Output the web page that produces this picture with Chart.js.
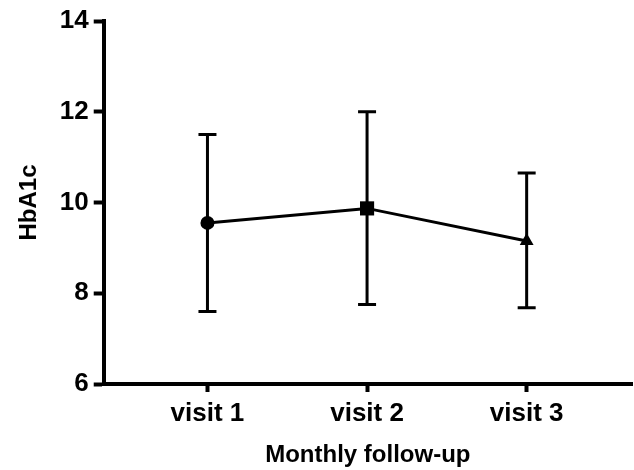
<!DOCTYPE html>
<html>
<head>
<meta charset="utf-8">
<script src="https://cdn.jsdelivr.net/npm/chart.js@4/dist/chart.umd.min.js"></script>
<style>
  html, body { margin: 0; padding: 0; background: #fff; }
  #wrap { width: 634px; height: 470px; }
</style>
</head>
<body>
<div id="wrap"><canvas id="c" width="634" height="470"></canvas></div>
<script>
const categories = ['visit 1', 'visit 2', 'visit 3'];
const means = [9.55, 9.87, 9.15];
const upper = [11.5, 12.0, 10.65];
const lower = [7.6, 7.75, 7.68];
const yTicks = [6, 8, 10, 12, 14];

const points = categories.map((c, i) => ({ x: i + 1, y: means[i] }));

const errorBars = {
  id: 'errorBars',
  afterDatasetsDraw(chart) {
    const ctx = chart.ctx;
    const xs = chart.scales.x, ys = chart.scales.y;
    ctx.save();
    ctx.strokeStyle = '#000';
    ctx.lineWidth = 3;
    ctx.lineCap = 'butt';
    categories.forEach((c, i) => {
      const px = xs.getPixelForValue(i + 1);
      const pt = ys.getPixelForValue(upper[i]);
      const pb = ys.getPixelForValue(lower[i]);
      ctx.beginPath();
      ctx.moveTo(px, pt); ctx.lineTo(px, pb);
      ctx.moveTo(px - 9, pt); ctx.lineTo(px + 9, pt);
      ctx.moveTo(px - 9, pb); ctx.lineTo(px + 9, pb);
      ctx.stroke();
    });
    ctx.restore();
  }
};

new Chart(document.getElementById('c'), {
  type: 'line',
  data: {
    datasets: [{
      data: points,
      borderColor: '#000',
      backgroundColor: '#000',
      borderWidth: 3,
      pointStyle: ['circle', 'rect', 'triangle'],
      pointRadius: [7, 10, 8],
      pointBackgroundColor: '#000',
      pointBorderColor: '#000',
      pointBorderWidth: 0,
      tension: 0,
      clip: false
    }]
  },
  options: {
    responsive: false,
    animation: false,
    layout: { autoPadding: false, padding: { top: 21, right: 2, left: 15, bottom: 0 } },
    plugins: { legend: { display: false }, tooltip: { enabled: false } },
    scales: {
      x: {
        type: 'linear',
        min: 0.35,
        max: 3.66,
        afterBuildTicks(scale) { scale.ticks = categories.map((c, i) => ({ value: i + 1 })); },
        ticks: {
          color: '#000',
          font: { family: 'Liberation Sans', size: 26, weight: 'bold' },
          padding: 6,
          callback(v) { return categories[v - 1]; }
        },
        grid: { drawOnChartArea: false, drawTicks: true, tickLength: 8, tickWidth: 4, tickColor: '#000' },
        border: { color: '#000', width: 4 },
        title: {
          display: true, text: 'Monthly follow-up', color: '#000',
          font: { family: 'Liberation Sans', size: 24, weight: 'bold' },
          padding: { top: 6, bottom: 0 }
        }
      },
      y: {
        type: 'linear',
        min: 6,
        max: 14,
        afterBuildTicks(scale) { scale.ticks = yTicks.map(v => ({ value: v })); },
        ticks: {
          color: '#000',
          font: { family: 'Liberation Sans', size: 26, weight: 'bold' },
          padding: 5
        },
        grid: { drawOnChartArea: false, drawTicks: true, tickLength: 10, tickWidth: 4, tickColor: '#000' },
        border: { color: '#000', width: 4 },
        title: {
          display: true, text: 'HbA1c', color: '#000',
          font: { family: 'Liberation Sans', size: 24, weight: 'bold' },
          padding: { top: 0, bottom: 11 }
        }
      }
    }
  },
  plugins: [errorBars]
});
</script>
</body>
</html>
